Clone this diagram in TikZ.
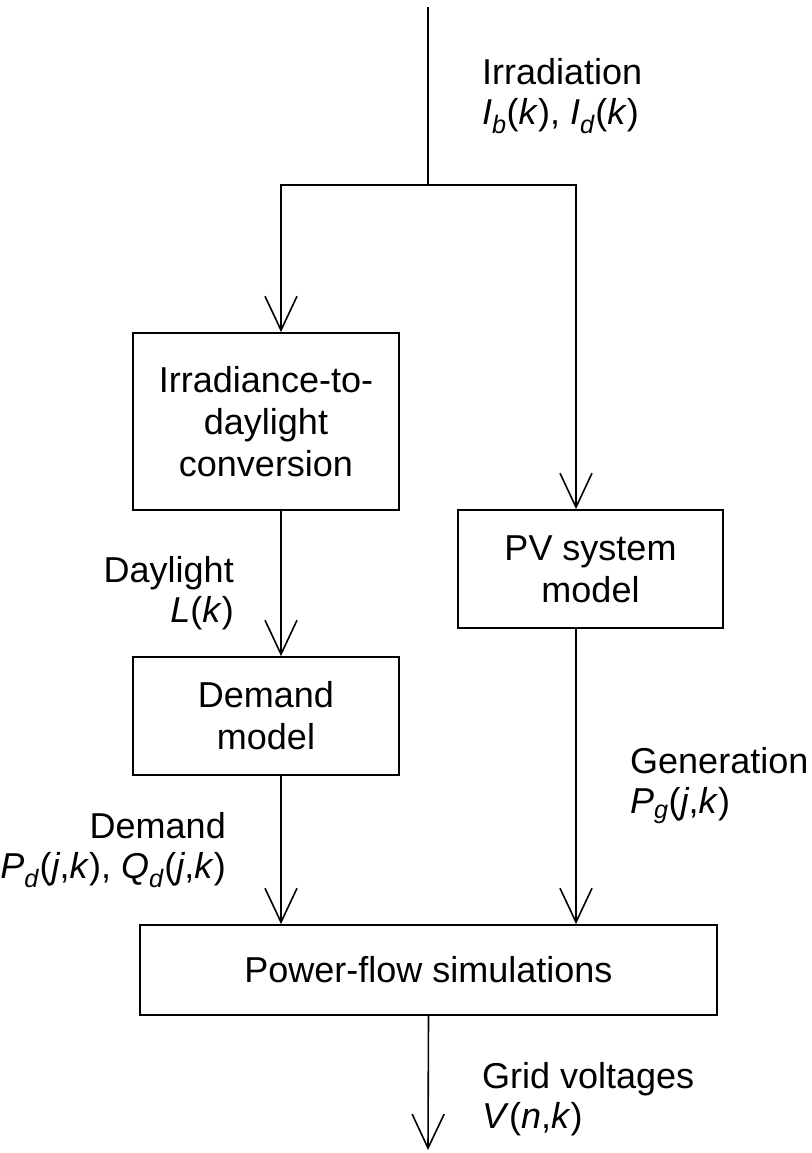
\documentclass[tikz,border=0pt]{standalone}
\usepackage{fontspec}
\setmainfont{Liberation Sans}
\usetikzlibrary{arrows.meta,positioning}
\tikzset{
  blk/.style={draw, line width=1.8pt, inner sep=0pt, align=center, minimum width=266pt},
  flow/.style={-{Straight Barb[length=34pt,width=32pt]}, line width=1.6pt},
  wire/.style={line width=1.6pt},
  lbl/.style={inner sep=0pt, font=\fontsize{36pt}{40pt}\selectfont}
}
\newcommand{\vr}[1]{\textit{#1}}
\newcommand{\sbs}[1]{\textsubscript{\textit{#1}}}

\begin{document}
\begin{tikzpicture}[x=1pt, y=-1pt, every node/.style={font=\fontsize{36pt}{42pt}\selectfont}]
  \useasboundingbox (0,0) rectangle (811,1153);
  % blocks
  \node[blk, minimum height=177pt] (conv) at (266,421.5) {Irradiance-to-\\daylight\\conversion};
  \node[blk, minimum height=118pt] (dem) at (266,716) {Demand\\model};
  \node[blk, minimum width=265pt, minimum height=118pt] (pv) at (590.5,569) {PV system\\model};
  \node[blk, minimum width=577pt, minimum height=90pt] (pf) at (428.5,970) {Power-flow simulations};
  \coordinate (src) at (428,7);
  \coordinate (split) at (428,185);
  \coordinate (out) at (428,1150);
  % connectors
  \draw[wire] (src) -- (split);
  \draw[flow] (split) -| ([xshift=15pt]conv.north);
  \draw[flow] (split) -| ([xshift=-14.5pt]pv.north);
  \draw[flow] ([xshift=15pt]conv.south) -- ([xshift=15pt]dem.north);
  \draw[flow] ([xshift=15pt]dem.south) -- ([xshift=15pt]dem.south |- pf.north);
  \draw[flow] ([xshift=-14.5pt]pv.south) -- ([xshift=-14.5pt]pv.south |- pf.north);
  \draw[flow] (pf.south) -- (out);
  % labels
  \node[lbl, anchor=north west, align=left] (irr) at (482,58) {Irradiation\\\vr{I}\sbs{b}(\vr{k}), \vr{I}\sbs{d}(\vr{k})};
  \node[lbl, anchor=north east, align=right] (day) at (234,556) {Daylight\\\vr{L}(\vr{k})};
  \node[lbl, anchor=north east, align=right] (dmd) at (226,812) {Demand\\\vr{P}\sbs{d}(\vr{j},\vr{k}), \vr{Q}\sbs{d}(\vr{j},\vr{k})};
  \node[lbl, anchor=north west, align=left] (gen) at (630,747) {Generation\\\vr{P}\sbs{g}(\vr{j},\vr{k})};
  \node[lbl, anchor=north west, align=left] (vol) at (482,1062) {Grid voltages\\\vr{V}(\vr{n},\vr{k})};
\end{tikzpicture}
\end{document}
